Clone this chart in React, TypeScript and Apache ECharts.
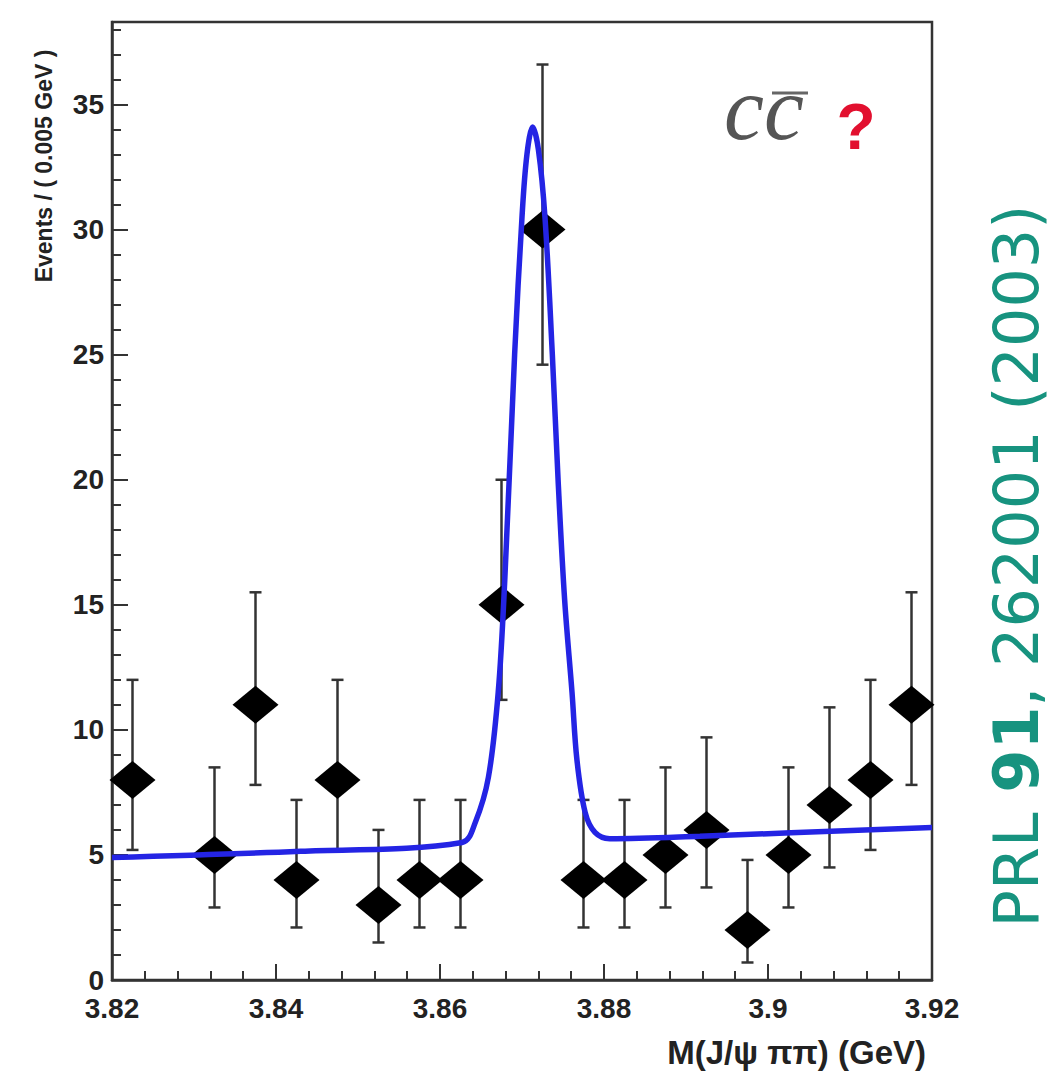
import React, { useEffect, useRef } from "react";
import * as echarts from "echarts";

// Bin centres (GeV) of the non-empty bins, bin width 0.005 GeV
const binCenters = [3.8225, 3.8325, 3.8375, 3.8425, 3.8475, 3.8525, 3.8575, 3.8625, 3.8675, 3.8725, 3.8775, 3.8825, 3.8875, 3.8925, 3.8975, 3.9025, 3.9075, 3.9125, 3.9175];
const counts = [8, 5, 11, 4, 8, 3, 4, 4, 15, 30, 4, 4, 5, 6, 2, 5, 7, 8, 11];
const errLow = [5.2, 2.9, 7.8, 2.1, 5.2, 1.5, 2.1, 2.1, 11.2, 24.6, 2.1, 2.1, 2.9, 3.7, 0.7, 2.9, 4.5, 5.2, 7.8];
const errHigh = [12.0, 8.5, 15.5, 7.2, 12.0, 6.0, 7.2, 7.2, 20.0, 36.6, 7.2, 7.2, 8.5, 9.7, 4.8, 8.5, 10.9, 12.0, 15.5];

// Fit curve
const fitX = [3.82, 3.843, 3.8627, 3.8643, 3.8659, 3.8671, 3.8679, 3.8691, 3.87, 3.8706, 3.8713, 3.872, 3.8728, 3.8737, 3.8744, 3.8752, 3.8761, 3.8767, 3.8777, 3.8789, 3.8807, 3.8917, 3.92];
const fitY = [4.9, 5.15, 5.5, 6.3, 8.1, 11.5, 16.0, 25.0, 30.5, 33.0, 34.1, 33.2, 30.5, 25.0, 20.0, 15.2, 11.5, 8.8, 6.7, 5.9, 5.65, 5.75, 6.1];

const xTicks = ["3.82", "3.84", "3.86", "3.88", "3.9", "3.92"];

export default function App() {
  const ref = useRef<HTMLDivElement>(null);
  useEffect(() => {
    document.body.style.margin = "0";
    const chart = echarts.init(ref.current!, null, { renderer: "svg" });
    const axisFont = { fontFamily: "Liberation Sans", fontWeight: "bold" as const, fontSize: 28, color: "#222" };
    chart.setOption({
      animation: false,
      backgroundColor: "#fff",
      grid: { left: 112, top: 22, right: 123, bottom: 99, show: true, borderColor: "#333", borderWidth: 2.5, backgroundColor: "transparent" },
      xAxis: {
        type: "value",
        min: 3.82,
        max: 3.92,
        interval: 0.02,
        axisLine: { show: true, lineStyle: { color: "#333", width: 2.5 } },
        axisTick: { show: true, inside: true, length: 16, lineStyle: { color: "#333", width: 2 } },
        minorTick: { show: true, splitNumber: 5, length: 9, lineStyle: { color: "#333", width: 2 } },
        splitLine: { show: false },
        axisLabel: {
          ...axisFont,
          margin: 14,
          formatter: (v: number) => {
            const s = parseFloat(v.toFixed(2)).toString();
            return xTicks.includes(s) ? s : "";
          },
        },
      },
      yAxis: {
        type: "value",
        min: 0,
        max: 38.3,
        interval: 5,
        axisLine: { show: true, lineStyle: { color: "#333", width: 2.5 } },
        axisTick: { show: true, inside: true, length: 16, lineStyle: { color: "#333", width: 2 } },
        minorTick: { show: true, splitNumber: 5, length: 9, lineStyle: { color: "#333", width: 2 } },
        splitLine: { show: false },
        axisLabel: { ...axisFont, margin: 8, showMaxLabel: false, formatter: (v: number) => (v % 5 === 0 ? String(v) : "") },
      },
      series: [
        {
          type: "custom",
          z: 2,
          data: binCenters.map((x, i) => [x, errLow[i], errHigh[i]]),
          encode: { x: 0, y: [1, 2] },
          renderItem: (params: any, api: any) => {
            const x = api.value(0);
            const lo = api.coord([x, api.value(1)]);
            const hi = api.coord([x, api.value(2)]);
            const st = { stroke: "#333", lineWidth: 2.5 };
            const cw = 6;
            return {
              type: "group",
              children: [
                { type: "line", shape: { x1: lo[0], y1: lo[1], x2: hi[0], y2: hi[1] }, style: st },
                { type: "line", shape: { x1: lo[0] - cw, y1: lo[1], x2: lo[0] + cw, y2: lo[1] }, style: st },
                { type: "line", shape: { x1: hi[0] - cw, y1: hi[1], x2: hi[0] + cw, y2: hi[1] }, style: st },
              ],
            };
          },
        },
        {
          type: "scatter",
          z: 3,
          symbol: "diamond",
          symbolSize: [46, 38],
          itemStyle: { color: "#000", opacity: 1 },
          data: binCenters.map((x, i) => [x, counts[i]]),
        },
        {
          type: "line",
          z: 4,
          showSymbol: false,
          smooth: 0.35,
          lineStyle: { color: "#2424e4", width: 5.5 },
          data: fitX.map((x, i) => [x, fitY[i]]),
        },
      ],
      graphic: [
        {
          type: "text",
          x: 44,
          y: 166,
          rotation: Math.PI / 2,
          style: { text: "Events / ( 0.005 GeV )", fontFamily: "Liberation Sans", fontWeight: "bold", fontSize: 23, fill: "#222", align: "center", verticalAlign: "middle" },
        },
        {
          type: "text",
          x: 926,
          y: 1052,
          style: { text: "M(J/ψ ππ) (GeV)", fontFamily: "Liberation Sans", fontWeight: "bold", fontSize: 33, fill: "#222", align: "right", verticalAlign: "middle" },
        },
        {
          type: "text",
          x: 724,
          y: 153,
          style: { text: "cc", fontFamily: "Liberation Serif", fontStyle: "italic", fontSize: 90, fill: "#555", align: "left", verticalAlign: "bottom" },
        },
        { type: "line", z: 10, shape: { x1: 772, y1: 93, x2: 808, y2: 93 }, style: { stroke: "#666", lineWidth: 3 } },
        {
          type: "text",
          x: 856,
          y: 127,
          style: { text: "?", fontFamily: "Liberation Sans", fontWeight: "bold", fontSize: 64, fill: "#e2102f", align: "center", verticalAlign: "middle" },
        },
        {
          type: "text",
          x: 1016,
          y: 566,
          rotation: Math.PI / 2,
          style: {
            text: "{n|PRL }{b|91}{n|, 262001 (2003)}",
            align: "center",
            verticalAlign: "middle",
            rich: {
              n: { fontFamily: "DejaVu Sans", fontSize: 62, lineHeight: 56, fill: "#17937f", color: "#17937f" },
              b: { fontFamily: "DejaVu Sans", fontWeight: "bold", fontSize: 62, lineHeight: 56, fill: "#17937f", color: "#17937f" },
            },
          },
        },
      ],
    });
    return () => chart.dispose();
  }, []);
  return <div ref={ref} style={{ width: 1055, height: 1079 }} />;
}
